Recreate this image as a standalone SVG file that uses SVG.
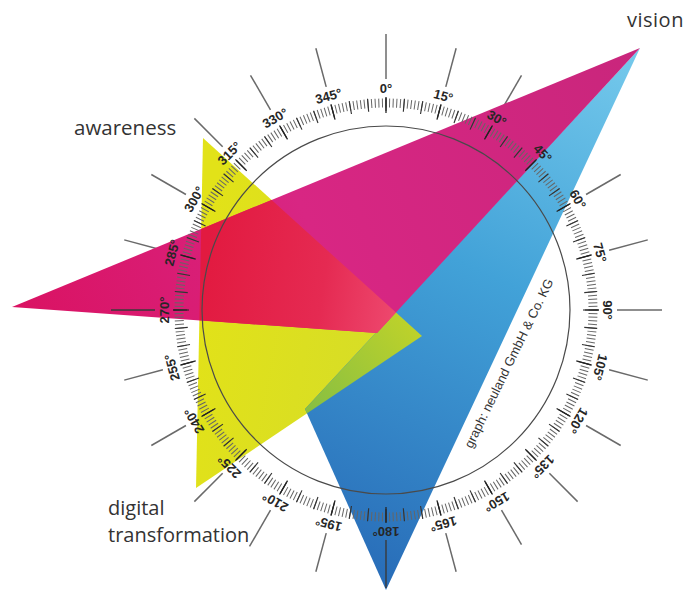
<svg xmlns="http://www.w3.org/2000/svg" width="692" height="591" viewBox="0 0 692 591">
  <style>
    .spoke { stroke: #6a6a6a; stroke-width: 1.5; fill: none; }
    .axis { stroke: #3a3a3a; stroke-width: 1.4; fill: none; }
    .deg { font-family: "Liberation Sans", Arial, sans-serif; font-weight: bold; font-size: 13px; fill: #262626; text-anchor: middle; }
    .label { font-family: "Open Sans", "DejaVu Sans", sans-serif; font-size: 20px; fill: #333333; }
    .credit { font-family: "Liberation Sans", Arial, sans-serif; font-size: 13px; fill: #333333; }
    .ring { fill: none; }
  </style>
  <defs>
    <linearGradient id="magGrad" gradientUnits="userSpaceOnUse" x1="12" y1="307" x2="640" y2="48">
      <stop offset="0" stop-color="#da1262"/>
      <stop offset="0.45" stop-color="#d82683"/>
      <stop offset="1" stop-color="#c9267c"/>
    </linearGradient>
    <linearGradient id="blueGrad" gradientUnits="userSpaceOnUse" x1="640" y1="48" x2="386" y2="590">
      <stop offset="0" stop-color="#76caec"/>
      <stop offset="0.45" stop-color="#42a2d8"/>
      <stop offset="1" stop-color="#286cb8"/>
    </linearGradient>
    <linearGradient id="yelGrad" gradientUnits="userSpaceOnUse" x1="196" y1="300" x2="422" y2="340">
      <stop offset="0" stop-color="#e2e218"/>
      <stop offset="1" stop-color="#d4dc2a"/>
    </linearGradient>
    <linearGradient id="greenGrad" gradientUnits="userSpaceOnUse" x1="420" y1="330" x2="320" y2="420">
      <stop offset="0" stop-color="#bed22a"/>
      <stop offset="1" stop-color="#88bf42"/>
    </linearGradient>
    <linearGradient id="redGrad" gradientUnits="userSpaceOnUse" x1="200" y1="290" x2="400" y2="320">
      <stop offset="0" stop-color="#e21a40"/>
      <stop offset="0.6" stop-color="#e52a52"/>
      <stop offset="1" stop-color="#ee4a70"/>
    </linearGradient>
    <clipPath id="yelClip">
      <polygon points="203,138 196,488 422,336"/>
    </clipPath>
  </defs>

  <rect width="692" height="591" fill="#ffffff"/>

  <!-- outer spokes every 15 degrees, beneath the triangles -->
  <g id="spokes" class="spoke">
    <line x1="386" y1="79" x2="386" y2="34"/>
    <line x1="386" y1="79" x2="386" y2="39" transform="rotate(15 386 310)"/>
    <line x1="386" y1="79" x2="386" y2="39" transform="rotate(30 386 310)"/>
    <line x1="386" y1="79" x2="386" y2="39" transform="rotate(45 386 310)"/>
    <line x1="386" y1="79" x2="386" y2="39" transform="rotate(60 386 310)"/>
    <line x1="386" y1="79" x2="386" y2="39" transform="rotate(75 386 310)"/>
    <line x1="386" y1="79" x2="386" y2="34" transform="rotate(90 386 310)"/>
    <line x1="386" y1="79" x2="386" y2="39" transform="rotate(105 386 310)"/>
    <line x1="386" y1="79" x2="386" y2="39" transform="rotate(120 386 310)"/>
    <line x1="386" y1="79" x2="386" y2="39" transform="rotate(135 386 310)"/>
    <line x1="386" y1="79" x2="386" y2="39" transform="rotate(150 386 310)"/>
    <line x1="386" y1="79" x2="386" y2="39" transform="rotate(165 386 310)"/>
    <line x1="386" y1="79" x2="386" y2="39" transform="rotate(195 386 310)"/>
    <line x1="386" y1="79" x2="386" y2="37" transform="rotate(210 386 310)"/>
    <line x1="386" y1="79" x2="386" y2="39" transform="rotate(225 386 310)"/>
    <line x1="386" y1="79" x2="386" y2="39" transform="rotate(240 386 310)"/>
    <line x1="386" y1="79" x2="386" y2="39" transform="rotate(255 386 310)"/>
    <line x1="386" y1="79" x2="386" y2="39" transform="rotate(285 386 310)"/>
    <line x1="386" y1="79" x2="386" y2="39" transform="rotate(300 386 310)"/>
    <line x1="386" y1="79" x2="386" y2="39" transform="rotate(315 386 310)"/>
    <line x1="386" y1="79" x2="386" y2="39" transform="rotate(330 386 310)"/>
    <line x1="386" y1="79" x2="386" y2="39" transform="rotate(345 386 310)"/>
  </g>

  <!-- yellow triangle: digital transformation -->
  <g id="digital-transformation">
    <polygon points="203,138 196,488 422,336" fill="url(#yelGrad)"/>
  </g>

  <!-- blue triangle: from vision down to 180 degrees -->
  <g id="vision-blue">
    <polygon points="640,48 386,590 305,409" fill="url(#blueGrad)"/>
    <polygon points="640,48 386,590 305,409" fill="url(#greenGrad)" clip-path="url(#yelClip)"/>
  </g>

  <!-- magenta triangle: awareness to vision -->
  <g id="awareness">
    <polygon points="12,307 640,48 377,333" fill="url(#magGrad)"/>
    <polygon points="12,307 640,48 377,333" fill="url(#redGrad)" clip-path="url(#yelClip)"/>
  </g>

  <!-- compass scale drawn over the triangles -->
  <g id="compass">
    <circle cx="386" cy="310" r="184" fill="none" stroke="#4a4a4a" stroke-width="1.2"/>
    <circle class="ring" cx="386" cy="310" r="207" pathLength="360" stroke="#666666" stroke-width="9" stroke-dasharray="0.28 0.72" stroke-dashoffset="0.14"/>
    <circle class="ring" cx="386" cy="310" r="205.5" pathLength="360" stroke="#333333" stroke-width="13" stroke-dasharray="0.32 4.68" stroke-dashoffset="0.16"/>
    <circle class="ring" cx="386" cy="310" r="205" pathLength="360" stroke="#222222" stroke-width="16" stroke-dasharray="0.36 14.64" stroke-dashoffset="0.18"/>
    <line class="axis" x1="386" y1="540" x2="386" y2="588"/>
    <line class="axis" x1="155" y1="310" x2="111" y2="310"/>
    <g class="deg">
      <text x="386" y="93">0°</text>
      <text x="386" y="93" transform="rotate(15 386 310)">15°</text>
      <text x="386" y="93" transform="rotate(30 386 310)">30°</text>
      <text x="386" y="93" transform="rotate(45 386 310)">45°</text>
      <text x="386" y="93" transform="rotate(60 386 310)">60°</text>
      <text x="386" y="93" transform="rotate(75 386 310)">75°</text>
      <text x="386" y="93" transform="rotate(90 386 310)">90°</text>
      <text x="386" y="93" transform="rotate(105 386 310)">105°</text>
      <text x="386" y="93" transform="rotate(120 386 310)">120°</text>
      <text x="386" y="93" transform="rotate(135 386 310)">135°</text>
      <text x="386" y="93" transform="rotate(150 386 310)">150°</text>
      <text x="386" y="93" transform="rotate(165 386 310)">165°</text>
      <text x="386" y="93" transform="rotate(180 386 310)">180°</text>
      <text x="386" y="93" transform="rotate(195 386 310)">195°</text>
      <text x="386" y="93" transform="rotate(210 386 310)">210°</text>
      <text x="386" y="93" transform="rotate(225 386 310)">225°</text>
      <text x="386" y="93" transform="rotate(240 386 310)">240°</text>
      <text x="386" y="93" transform="rotate(255 386 310)">255°</text>
      <text x="386" y="93" transform="rotate(270 386 310)">270°</text>
      <text x="386" y="93" transform="rotate(285 386 310)">285°</text>
      <text x="386" y="93" transform="rotate(300 386 310)">300°</text>
      <text x="386" y="93" transform="rotate(315 386 310)">315°</text>
      <text x="386" y="93" transform="rotate(330 386 310)">330°</text>
      <text x="386" y="93" transform="rotate(345 386 310)">345°</text>
    </g>
  </g>

  <!-- captions -->
  <g id="labels">
    <text class="label" x="627" y="27" letter-spacing="0.5">vision</text>
    <text class="label" x="74" y="135" style="font-size:20.5px">awareness</text>
    <text class="label" x="108" y="515">digital</text>
    <text class="label" x="108" y="542">transformation</text>
    <text class="credit" transform="translate(472 449) rotate(-64)">graph: neuland GmbH &amp; Co. KG</text>
  </g>
</svg>
